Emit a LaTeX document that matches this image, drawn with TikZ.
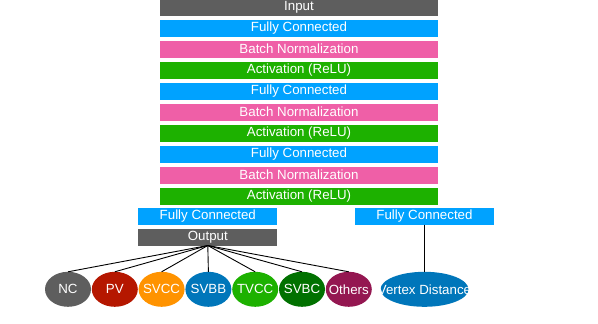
\documentclass[tikz,border=0pt]{standalone}
\usepackage{fontspec}
\setmainfont{Liberation Sans}
\usetikzlibrary{shapes.geometric,positioning}
\definecolor{kgray}{HTML}{5E5E5E}
\definecolor{kblue}{HTML}{00A2FF}
\definecolor{kpink}{HTML}{EF5FA7}
\definecolor{kgreen}{HTML}{1DB100}
\definecolor{kred}{HTML}{B51700}
\definecolor{korange}{HTML}{FF9300}
\definecolor{kdblue}{HTML}{0076BA}
\definecolor{kdgreen}{HTML}{017100}
\definecolor{kplum}{HTML}{941751}
\newcommand{\lbl}[1]{\makebox[20pt]{#1}}

\begin{document}
\begin{tikzpicture}[
	x=1pt, y=-1pt,
	font=\fontsize{13.3}{15}\selectfont,
	node distance=4pt,
	bar/.style={rectangle, fill=#1, text=white, minimum width=278pt, minimum height=17pt, inner sep=0pt, outer sep=0pt},
	half/.style={bar=#1, minimum width=139pt},
	cls/.style={ellipse, fill=#1, text=white, minimum width=46pt, minimum height=35pt, inner sep=0pt, outer sep=0pt},
	link/.style={black, line width=0.9pt},
]
\useasboundingbox (0,0) rectangle (598,324);
% Stapel in der Mitte
\node[bar=kgray] (inp) at (299,7) {Input};
\node[bar=kblue] (fc1) [below=of inp] {Fully Connected};
\node[bar=kpink] (bn1) [below=of fc1] {Batch Normalization};
\node[bar=kgreen] (act1) [below=of bn1] {Activation (ReLU)};
\node[bar=kblue] (fc2) [below=of act1] {Fully Connected};
\node[bar=kpink] (bn2) [below=of fc2] {Batch Normalization};
\node[bar=kgreen] (act2) [below=of bn2] {Activation (ReLU)};
\node[bar=kblue] (fc3) [below=of act2] {Fully Connected};
\node[bar=kpink] (bn3) [below=of fc3] {Batch Normalization};
\node[bar=kgreen] (act3) [below=of bn3] {Activation (ReLU)};
% Zwei Köpfe
\node[half=kblue] (fcl) at (207.8,216) {Fully Connected};
\node[half=kgray] (out) [below=of fcl] {Output};
\node[half=kblue] (fcr) at (424.5,216) {Fully Connected};
% Klassen
\node[cls=kgray] (nc) at (68,289.3) {\lbl{NC}};
\node[cls=kred] (pv) at (114.8,289.3) {\lbl{PV}};
\node[cls=korange] (svcc) at (161.6,289.3) {\lbl{SVCC}};
\node[cls=kdblue] (svbb) at (208.4,289.3) {\lbl{SVBB}};
\node[cls=kgreen] (tvcc) at (255.2,289.3) {\lbl{TVCC}};
\node[cls=kdgreen] (svbc) at (302,289.3) {\lbl{SVBC}};
\node[cls=kplum] (oth) at (348.8,289.3) {\lbl{Others}};
\node[cls=kdblue, minimum width=88pt] (vd) at (424.5,289.3) {\lbl{Vertex Distance}};
\draw[link] (out.south)--(nc.north); \draw[link] (out.south)--(pv.north);
\draw[link] (out.south)--(svcc.north); \draw[link] (out.south)--(svbb.north);
\draw[link] (out.south)--(tvcc.north); \draw[link] (out.south)--(svbc.north);
\draw[link] (out.south)--(oth.north);
\draw[link] (fcr.south)--(vd.north);
\end{tikzpicture}
\end{document}
